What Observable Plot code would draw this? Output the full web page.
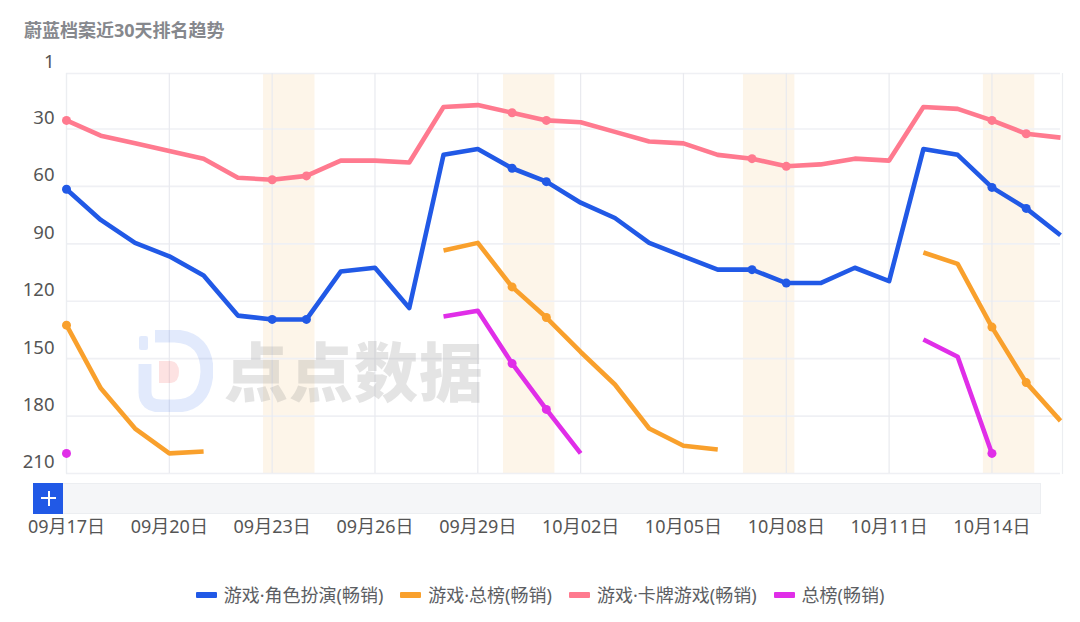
<!DOCTYPE html>
<html><head><meta charset="utf-8">
<script src="https://cdn.jsdelivr.net/npm/d3@7"></script>
<script src="https://cdn.jsdelivr.net/npm/@observablehq/plot@0.6"></script>
<style>
html,body{margin:0;padding:0;background:#fff;}
body{width:1080px;height:622px;position:relative;overflow:hidden;font-family:"Noto Sans","Noto Sans CJK SC",sans-serif;}
#title{position:absolute;left:24px;top:18px;font-size:18px;font-weight:700;color:#86888d;line-height:24px;}
#chart{position:absolute;left:0;top:0;}
#slider{position:absolute;left:33px;top:483px;width:1006px;height:29px;background:#f5f6f8;border:1px solid #eceef1;box-sizing:content-box;}
#btn{position:absolute;left:33px;top:483px;width:30px;height:31px;background:#2159e6;color:#fff;}
#btn:before{content:"";position:absolute;left:8px;top:14px;width:15px;height:2px;background:#fff;}
#btn:after{content:"";position:absolute;left:14.5px;top:8px;width:2px;height:15px;background:#fff;}
#legend{position:absolute;left:0;top:583px;width:1080px;height:24px;display:flex;justify-content:center;color:#5c5e63;font-size:18px;line-height:24px;padding-left:17px;box-sizing:border-box;}
#legend span.it{display:flex;align-items:center;margin-right:17px;}
#legend i{display:inline-block;width:21px;height:6px;margin-right:7px;border-radius:1px;}
#wm{position:absolute;left:224px;top:326px;font-size:64px;font-weight:900;color:#8a8a8a;opacity:.22;letter-spacing:1px;line-height:84px;white-space:nowrap;font-family:"Noto Sans CJK SC";}
#logo{position:absolute;left:131px;top:330px;}
</style></head><body>
<div id="chart"></div>
<div id="title">蔚蓝档案近30天排名趋势</div>
<svg id="logo" width="82" height="82" viewBox="0 0 82 82">
<path d="M14 34 L14 62 Q14 76 30 76 L44 76 Q74 76 76 42 Q76 8 44 6 L24 6" fill="none" stroke="#2159e6" stroke-opacity=".13" stroke-width="13"/>
<rect x="8" y="6" width="9" height="14" rx="2" fill="#2159e6" fill-opacity=".13"/>
<path d="M28 31 L40 31 Q48 32 48 42 Q48 52 40 53 L28 53 Z" fill="#f24b4b" fill-opacity=".16"/>
</svg>
<div id="wm">点点数据</div>
<div id="slider"></div><div id="btn"></div>
<div id="legend"></div>
<script>
const startDay = new Date(Date.UTC(2023, 8, 17));
const endDay = new Date(Date.UTC(2023, 9, 16));
const days = d3.utcDay.range(startDay, d3.utcDay.offset(endDay, 1));

const seriesNames = ["游戏·角色扮演(畅销)", "游戏·总榜(畅销)", "游戏·卡牌游戏(畅销)", "总榜(畅销)"];
const seriesColors = ["#2159e6", "#f9a02c", "#ff7a8f", "#e02ee8"];

const rolePlay = [61.5,77.5,89.5,96.5,106.5,127.5,129.5,129.5,104.5,102.5,123.5,43.5,40.5,50.5,57.5,68.5,76.5,89.5,96.5,103.5,103.5,110.5,110.5,102.5,109.5,40.5,43.5,60.5,71.5,85.5];
const overall = [132.5,165.5,186.5,199.5,198.5,null,null,null,null,null,null,93.5,89.5,112.5,128.5,146.5,163.5,186.5,195.5,197.5,null,null,null,null,null,94.5,100.5,133.5,162.5,182.5];
const cards = [25.5,33.5,37.5,41.5,45.5,55.5,56.5,54.5,46.5,46.5,47.5,18.5,17.5,21.5,25.5,26.5,31.5,36.5,37.5,43.5,45.5,49.5,48.5,45.5,46.5,18.5,19.5,25.5,32.5,34.5];
const totalChart = [199.5,null,null,null,null,null,null,null,null,null,null,128,125,152.5,176.5,199.5,null,null,null,null,null,null,null,null,null,140,149,199.5,null,null];
const seriesValues = [rolePlay, overall, cards, totalChart];

const markerDays = [0,6,7,13,14,20,21,27,28];
const weekendBands = [[6,7],[13,14],[20,21],[27,28]];
const yTicks = [1,30,60,90,120,150,180,210];
const xTicks = days.filter((d,i)=> i%3===0 && i<28);

const rows = seriesNames.flatMap((name,s)=> days.map((date,i)=>({name,date,i,rank:seriesValues[s][i]})));
const bands = weekendBands.map(([a,b])=>({x1:d3.utcHour.offset(days[a],-6),x2:d3.utcHour.offset(days[b],6)}));
const fmt = d3.utcFormat("%m月%d日");

const plot = Plot.plot({
  width:1080,height:560,
  marginLeft:66,marginRight:20,marginTop:73,marginBottom:87,
  style:{fontFamily:'"Noto Sans","Noto Sans CJK SC",sans-serif',background:"transparent",overflow:"visible"},
  x:{type:"utc",domain:[startDay,endDay]},
  y:{domain:[1,210],reverse:true},
  color:{domain:seriesNames,range:seriesColors},
  marks:[
    Plot.rect(bands,{x1:"x1",x2:"x2",fill:"#fdf5e9"}),
    Plot.gridY(yTicks,{stroke:"#eff0f4",strokeOpacity:1,strokeWidth:1.6}),
    Plot.gridX(xTicks,{stroke:"#e9eaef",strokeOpacity:1,strokeWidth:1.2}),
    Plot.frame({stroke:"#eceef1",strokeWidth:1.2,anchor:"left"}),
    Plot.frame({stroke:"#eceef1",strokeWidth:1.2,anchor:"right",dx:2}),
    Plot.axisY(yTicks,{anchor:"left",tickSize:0,tickPadding:12,dy:-11,fontSize:18.5,fill:"#555",label:null}),
    Plot.axisX(xTicks,{anchor:"bottom",tickSize:0,tickPadding:47,fontSize:18,fill:"#555",label:null,tickFormat:fmt}),
    Plot.line(rows,{x:"date",y:"rank",z:"name",stroke:"name",strokeWidth:4.6,strokeLinecap:"butt",strokeLinejoin:"round",curve:"linear"}),
    Plot.dot(rows.filter(d=>d.rank!=null&&markerDays.includes(d.i)),{x:"date",y:"rank",fill:"name",r:4.5,stroke:null})
  ]
});
document.getElementById("chart").appendChild(plot);

const lg = document.getElementById("legend");
seriesNames.forEach((n,i)=>{
  const it=document.createElement("span");it.className="it";
  const sw=document.createElement("i");sw.style.background=seriesColors[i];
  it.appendChild(sw);it.appendChild(document.createTextNode(n));lg.appendChild(it);
});
</script>
</body></html>
